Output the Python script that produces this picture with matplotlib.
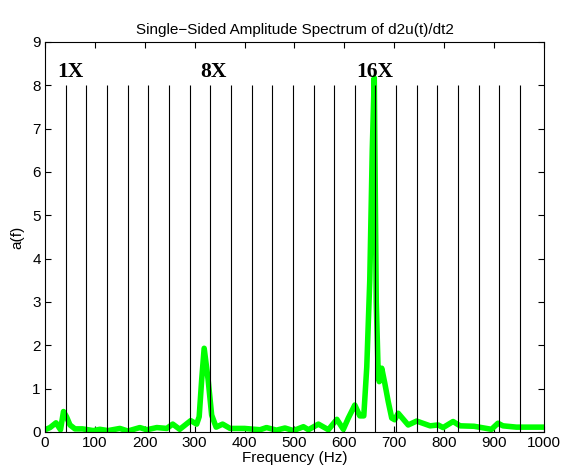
import matplotlib
matplotlib.use('Agg')
import matplotlib.pyplot as plt

# spectrum
freq = [0, 10, 22, 31, 37, 43, 50, 60, 75, 97, 110, 126, 150, 166, 190, 204, 224,
        244, 256, 270, 292, 304, 309, 314, 319, 327, 334, 343, 356, 371, 400, 420,
        431, 444, 464, 481, 498, 518, 528, 548, 568, 585, 598, 608, 621, 631, 639,
        645, 651, 656, 660, 664, 668, 670, 675, 681, 688, 695, 701, 708, 728, 745,
        772, 788, 798, 818, 832, 860, 895, 908, 918, 945, 1000]
amp = [0.05, 0.1, 0.21, 0.05, 0.47, 0.35, 0.16, 0.07, 0.07, 0.03, 0.06, 0.03, 0.08,
       0.02, 0.1, 0.05, 0.1, 0.08, 0.18, 0.06, 0.26, 0.18, 0.35, 1.2, 1.93, 1.2,
       0.39, 0.11, 0.18, 0.08, 0.08, 0.06, 0.05, 0.1, 0.04, 0.09, 0.03, 0.12, 0.05,
       0.18, 0.05, 0.29, 0.06, 0.32, 0.62, 0.37, 0.37, 1.5, 3.5, 6.5, 8.17, 3.0,
       1.3, 1.16, 1.47, 1.13, 0.7, 0.32, 0.28, 0.43, 0.16, 0.25, 0.14, 0.16, 0.1,
       0.24, 0.14, 0.13, 0.06, 0.2, 0.14, 0.11, 0.11]

f0 = 41.4
harmonics = list(range(1, 24))
labels = {1: '1X', 8: '8X', 16: '16X'}
label_x = {1: 50, 8: 337, 16: 661}

plt.rcParams['font.family'] = ['Liberation Sans', 'DejaVu Sans']

fig = plt.figure(figsize=(5.63, 4.71), dpi=100)
ax = fig.add_axes([0.08, 0.083, 0.886, 0.828])

ax.plot(freq, amp, color='#00ff00', lw=4, solid_joinstyle='round', zorder=2)
ax.vlines([k * f0 for k in harmonics], 0, 8, colors='black', lw=0.8, zorder=3)
for k, s in labels.items():
    ax.text(label_x[k], 8.07, s, ha='center', va='bottom', fontsize=15.5,
            fontweight='bold', family='Liberation Serif', zorder=4)

ax.set_xlim(0, 1000)
ax.set_ylim(0, 9)
ax.set_xticks(range(0, 1001, 100))
ax.set_yticks(range(0, 10))
ax.tick_params(direction='in', top=True, right=True, labelsize=11, length=4, pad=3)
ax.set_xlabel('Frequency (Hz)', fontsize=11, labelpad=1)
ax.set_ylabel('a(f)', fontsize=11, labelpad=6)
ax.set_title('Single\u2212Sided Amplitude Spectrum of d2u(t)/dt2', fontsize=11, pad=6)

fig.savefig('out.png', dpi=100)
